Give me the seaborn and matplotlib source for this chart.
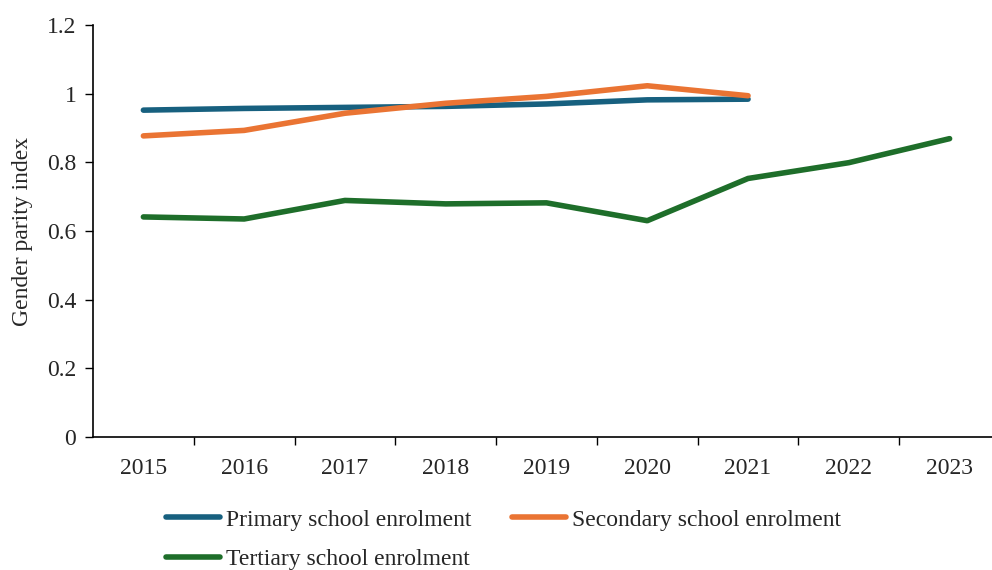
import numpy as np
import pandas as pd
import matplotlib
matplotlib.use("Agg")
import matplotlib.pyplot as plt
import seaborn as sns
from matplotlib.ticker import FixedLocator, NullFormatter

years = [2015, 2016, 2017, 2018, 2019, 2020, 2021, 2022, 2023]
primary = [0.952, 0.957, 0.960, 0.963, 0.970, 0.982, 0.984, np.nan, np.nan]
secondary = [0.877, 0.893, 0.943, 0.972, 0.992, 1.023, 0.994, np.nan, np.nan]
tertiary = [0.641, 0.635, 0.689, 0.679, 0.682, 0.630, 0.753, 0.799, 0.869]
series_names = ["Primary school enrolment", "Secondary school enrolment", "Tertiary school enrolment"]
colors = ["#17607f", "#ea7433", "#1e6e2a"]
y_ticks = [0, 0.2, 0.4, 0.6, 0.8, 1, 1.2]
y_tick_labels = ["0", "0.2", "0.4", "0.6", "0.8", "1", "1.2"]

df = pd.DataFrame({
    "year": years * 3,
    "value": primary + secondary + tertiary,
    "series": [series_names[0]] * 9 + [series_names[1]] * 9 + [series_names[2]] * 9,
}).dropna()

sns.set_style("white")
plt.rcParams["font.family"] = ["Liberation Serif", "DejaVu Serif"]
FS = 17
LW = 4.0

fig = plt.figure(figsize=(9.92, 5.70), dpi=100)
ax = fig.add_axes([93 / 992, 133 / 570, 907 / 992, 412 / 570])

sns.lineplot(data=df, x="year", y="value", hue="series", hue_order=series_names,
             palette=colors, linewidth=LW, ax=ax, legend=True, solid_capstyle="round")

ax.set_xlim(2014.5, 2023.5)
ax.set_ylim(0, 1.2)
ax.set_yticks(y_ticks)
ax.set_yticklabels(y_tick_labels, fontsize=FS)

ax.xaxis.set_major_locator(FixedLocator([y + 0.5 for y in years[:-1]]))
ax.xaxis.set_major_formatter(NullFormatter())
ax.set_xticks(years, minor=True)
ax.set_xticklabels([str(y) for y in years], minor=True, fontsize=FS)
ax.tick_params(axis="x", which="major", length=6, width=1, direction="out", bottom=True, color="black")
ax.tick_params(axis="x", which="minor", length=0, pad=15)
ax.tick_params(axis="y", length=6, width=1, direction="out", left=True, color="black", pad=6)

for s in ["top", "right"]:
    ax.spines[s].set_visible(False)
for s in ["left", "bottom"]:
    ax.spines[s].set_color("black")
    ax.spines[s].set_linewidth(1.2)

ax.set_xlabel("")
ax.set_ylabel("Gender parity index", fontsize=FS, labelpad=10)

handles, labels = ax.get_legend_handles_labels()
ax.get_legend().remove()
for h in handles:
    h.set_linewidth(LW)
order = [0, 2, 1]
leg = fig.legend([handles[i] for i in order], [labels[i] for i in order],
                 loc="upper left", bbox_to_anchor=(166 / 992, 1 - 509 / 570),
                 ncol=2, frameon=False, fontsize=FS, handlelength=2.3, handletextpad=0.25,
                 columnspacing=1.7, labelspacing=0.75, borderpad=0, borderaxespad=0)

fig.savefig("out.png", dpi=100)
